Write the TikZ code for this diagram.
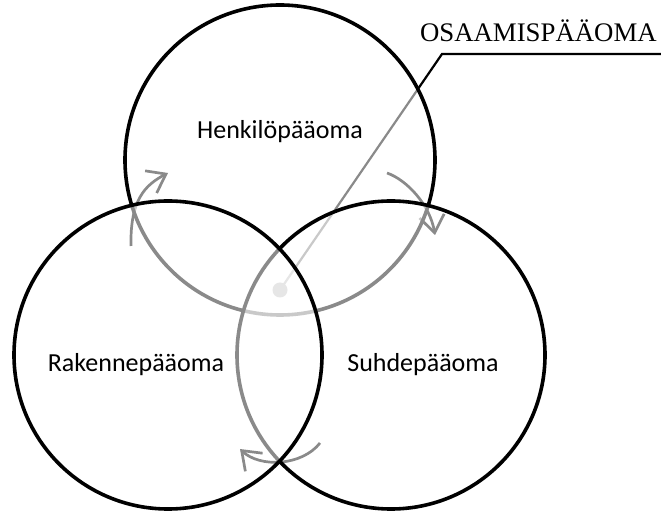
\documentclass[tikz,border=0pt]{standalone}
\usepackage{fontspec}
\setmainfont{Liberation Serif}
\newfontfamily\labelfont{Carlito}
\usetikzlibrary{arrows.meta}

\begin{document}
\begin{tikzpicture}[x=1pt,y=1pt,
  venn/.style={circle, draw=black, line width=3.6pt, fill=white,
    fill opacity=0.54, inner sep=0pt, minimum size=#1},
  flow/.style={black, line width=2.7pt,
    -{Straight Barb[length=17pt,width=25pt]}},
  leader/.style={black, line width=2.2pt},
  pin/.style={circle, fill=black, inner sep=0pt, minimum size=15pt},
  part/.style={font=\labelfont\fontsize{26}{30}\selectfont, anchor=base, inner sep=0pt},
  title/.style={font=\fontsize{26.8}{30}\selectfont, anchor=base east, inner sep=0pt}]

\useasboundingbox (0,0) rectangle (661,511);

% leader from the shared core to the heading (black; shaded by the discs above it)
\node[pin] (core) at (280,221) {};
\coordinate (knee) at (442,457);
\coordinate (rail) at (661,457);
\draw[leader] (core.center) -- (knee) -- (rail);

% cycle arrows between the three capitals
\coordinate (l0) at (131,265);
\coordinate (l1) at (168,338);
\coordinate (r0) at (387,338);
\coordinate (r1) at (435,276);
\coordinate (b0) at (320,68);
\coordinate (b1) at (240,62);
\draw[flow] (l0) .. controls (130,311) and (145,326) .. (l1);
\draw[flow] (r0) .. controls (407,331) and (430,306) .. (r1);
\draw[flow] (b0) .. controls (302,45) and (260,43) .. (b1);

% the three discs, each veiling what lies beneath it
\node[venn=310pt] (henk) at (280,351) {};
\node[venn=308pt] (suhde) at (391,156) {};
\node[venn=308pt] (rak) at (168,156) {};

% labels
\node[part] (thenk) at (280,372) {Henkilöpääoma};
\node[part] (trak) at (136,139) {Rakennepääoma};
\node[part] (tsuhde) at (423,139) {Suhdepääoma};
\node[title] (tosa) at (657,469) {OSAAMISPÄÄOMA};
\end{tikzpicture}
\end{document}
